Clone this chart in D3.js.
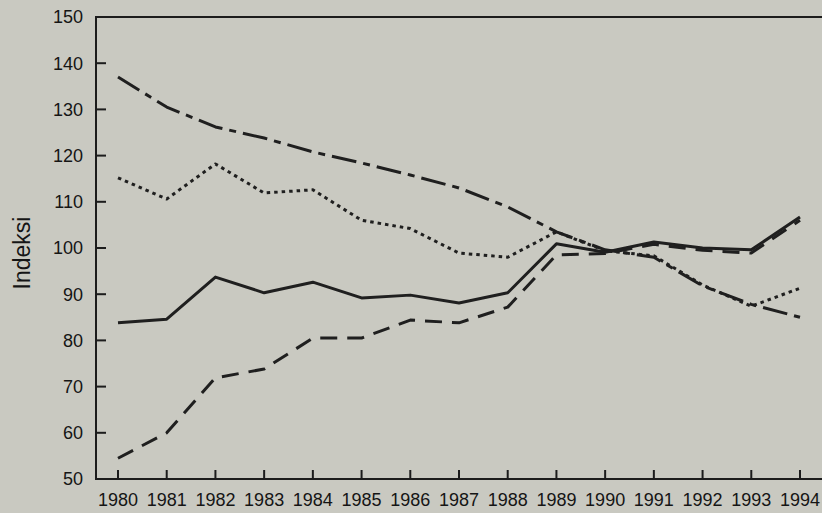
<!DOCTYPE html>
<html>
  <head>
    <meta charset="utf-8">
    <title>Indeksi 1980-1994</title>
    <script src="https://cdn.jsdelivr.net/npm/d3@7"></script>
    <style>
      body { margin: 0; background: #c9c9c1; }
      svg { display: block; font-family: "Liberation Sans", Arial, sans-serif; }
      .tick-label { font-size: 18px; fill: #151515; }
      .axis-label { font-size: 23px; fill: #151515; }
      .frame { stroke: #1c1c1c; stroke-width: 2; fill: none; }
      .series { fill: none; stroke: #1f1f1f; stroke-width: 3; stroke-linejoin: round; }
    </style>
  </head>
  <body>
    <script>
    // data
    var years = [1980, 1981, 1982, 1983, 1984, 1985, 1986, 1987, 1988, 1989, 1990, 1991, 1992, 1993, 1994];
    var yTicks = [50, 60, 70, 80, 90, 100, 110, 120, 130, 140, 150];

    var dashDotSeries = [137, 130.5, 126.2, 123.8, 120.8, 118.4, 115.8, 113, 108.9, 103.5, 99.6, 98, 91.8, 87.8, 85];
    var dottedSeries = [115.2, 110.6, 118.2, 111.9, 112.6, 106, 104.2, 98.9, 98, 103.5, 99.4, 98.3, 92, 87.4, 91.3];
    var solidSeries = [83.8, 84.6, 93.7, 90.3, 92.6, 89.2, 89.8, 88.1, 90.3, 100.9, 99.1, 101.3, 100, 99.6, 106.7];
    var dashedSeries = [54.5, 60, 71.9, 73.8, 80.5, 80.5, 84.4, 83.8, 87.2, 98.5, 98.8, 100.8, 99.5, 98.9, 106];

    var chartW = 822, chartH = 513;
    var plotLeft = 96, plotTop = 17, plotBottom = 479;

    var x = d3.scaleLinear().domain([1980, 1994]).range([118, 800]);
    var y = d3.scaleLinear().domain([50, 150]).range([plotBottom, plotTop]);

    var svg = d3.select("body").append("svg")
        .attr("width", chartW)
        .attr("height", chartH);

    // frame: left axis, bottom axis, top border running off the right edge
    svg.append("path")
        .attr("class", "frame")
        .attr("d", "M" + chartW + "," + y(150) + "H" + plotLeft + "V" + y(50) + "H" + chartW);

    // y ticks (pointing inward)
    svg.append("g")
      .selectAll("line")
      .data(yTicks)
      .enter().append("line")
        .attr("x1", plotLeft).attr("x2", plotLeft + 10)
        .attr("y1", function(d) { return y(d); })
        .attr("y2", function(d) { return y(d); })
        .attr("stroke", "#1c1c1c").attr("stroke-width", 2);

    svg.append("g")
      .selectAll("text")
      .data(yTicks)
      .enter().append("text")
        .attr("class", "tick-label")
        .attr("x", 83)
        .attr("y", function(d) { return y(d); })
        .attr("dy", "0.35em")
        .attr("text-anchor", "end")
        .text(function(d) { return d; });

    // x ticks (pointing up)
    svg.append("g")
      .selectAll("line")
      .data(years)
      .enter().append("line")
        .attr("x1", function(d) { return x(d); })
        .attr("x2", function(d) { return x(d); })
        .attr("y1", plotBottom).attr("y2", plotBottom - 9)
        .attr("stroke", "#1c1c1c").attr("stroke-width", 2);

    svg.append("g")
      .selectAll("text")
      .data(years)
      .enter().append("text")
        .attr("class", "tick-label")
        .attr("x", function(d) { return x(d); })
        .attr("y", 506)
        .attr("text-anchor", "middle")
        .text(function(d) { return d; });

    // y-axis label
    svg.append("text")
        .attr("class", "axis-label")
        .attr("transform", "translate(30,253) rotate(-90)")
        .attr("text-anchor", "middle")
        .text("Indeksi");

    var line = d3.line()
        .x(function(d, i) { return x(years[i]); })
        .y(function(d) { return y(d); });

    var series = [
      { values: dashDotSeries, dash: "25,7,7,7" },
      { values: dottedSeries, dash: "3.5,4" },
      { values: solidSeries, dash: null },
      { values: dashedSeries, dash: "17,10" }
    ];

    svg.append("g")
      .selectAll("path")
      .data(series)
      .enter().append("path")
        .attr("class", "series")
        .attr("d", function(d) { return line(d.values); })
        .attr("stroke-dasharray", function(d) { return d.dash; });
    </script>
  </body>
</html>
